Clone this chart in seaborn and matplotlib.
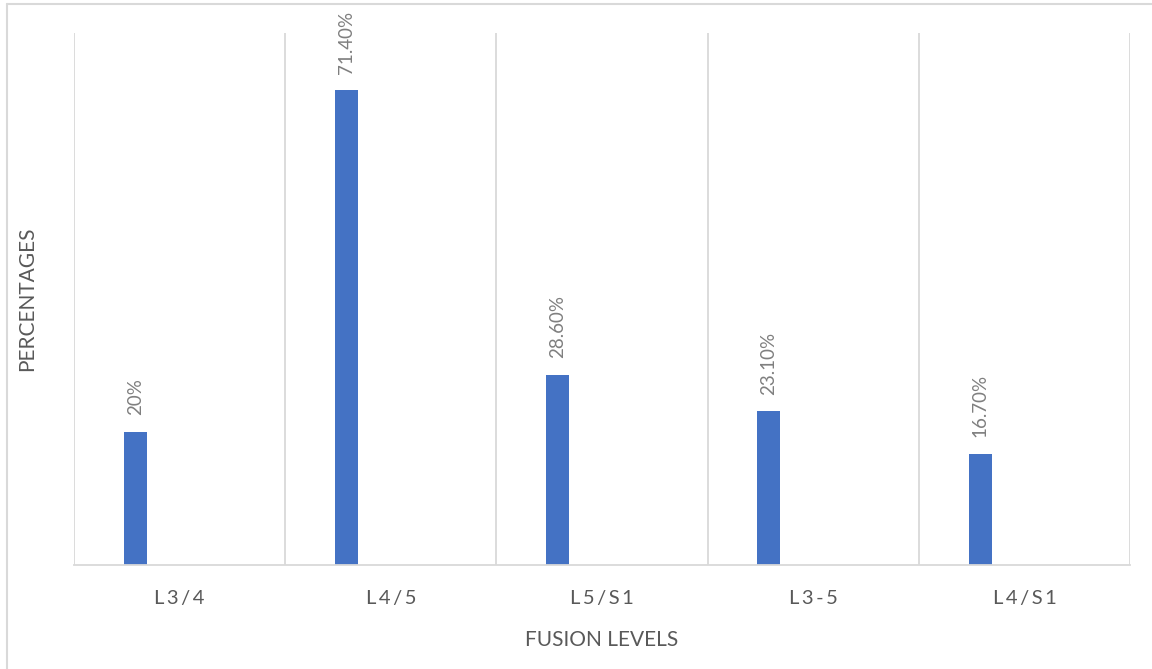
import matplotlib
matplotlib.use("Agg")
import matplotlib.pyplot as plt
from matplotlib.lines import Line2D
import seaborn as sns
import pandas as pd

# Fusion levels and the share of each
levels = ["L3/4", "L4/5", "L5/S1", "L3-5", "L4/S1"]
percentages = [20.0, 71.4, 28.6, 23.1, 16.7]

BAR_COLOR = "#4472C4"
GRID_COLOR = "#D9D9D9"
TEXT_COLOR = "#595959"
LABEL_COLOR = "#7F7F7F"


def fmt_pct(v):
    return f"{v:.0f}%" if float(v).is_integer() else f"{v:.2f}%"


def spaced(s):
    # letter-spaced category names
    return "\u2009".join(s)


sns.set_theme(style="white")
plt.rcParams["font.family"] = ["Lato", "DejaVu Sans"]

df = pd.DataFrame({"level": levels, "pct": percentages})

fig = plt.figure(figsize=(11.52, 6.69), dpi=100)
ax = fig.add_axes([74 / 1152, 1 - 565 / 669, (1130 - 74) / 1152, (565 - 33) / 669])

sns.barplot(data=df, x="level", y="pct", color=BAR_COLOR, width=0.109,
            saturation=1, ax=ax, errorbar=None)

# Bars sit in the left part of each category slot
shift = -0.21
for p in ax.patches:
    p.set_x(p.get_x() + shift)
    p.set_edgecolor("none")

ax.set_xlim(-0.5, len(levels) - 0.5)
ax.set_ylim(0, 80)

# Vertical separators between categories
for b in [i - 0.5 for i in range(len(levels) + 1)]:
    ax.axvline(b, color=GRID_COLOR, lw=1.3, zorder=0)

for s in ["top", "left", "right"]:
    ax.spines[s].set_visible(False)
ax.spines["bottom"].set_color(GRID_COLOR)
ax.spines["bottom"].set_linewidth(1.3)

ax.set_yticks([])
ax.set_xticks(range(len(levels)))
ax.set_xticklabels([spaced(l) for l in levels], color=TEXT_COLOR, fontsize=14.5)
ax.tick_params(axis="x", length=0, pad=18)

# Value labels above each bar
for p, v in zip(ax.patches, percentages):
    ax.annotate(fmt_pct(v), (p.get_x() + p.get_width() / 2, p.get_height()),
                xytext=(0, 12), textcoords="offset points", rotation=90,
                ha="center", va="bottom", color=LABEL_COLOR, fontsize=13.5)

ax.set_xlabel("FUSION LEVELS", color=TEXT_COLOR, fontsize=15)
ax.xaxis.set_label_coords((602 - 74) / (1130 - 74), -(630 - 565) / (565 - 33))
ax.set_ylabel("PERCENTAGES", color=TEXT_COLOR, fontsize=15)
ax.yaxis.set_label_coords(-(74 - 37) / (1130 - 74), (565 - 299) / (565 - 33))

# Chart area frame
fig.add_artist(Line2D([7 / 1152, 7 / 1152], [0, 1 - 4 / 669],
                      transform=fig.transFigure, color=GRID_COLOR, lw=1.5))
fig.add_artist(Line2D([7 / 1152, 1], [1 - 4 / 669, 1 - 4 / 669],
                      transform=fig.transFigure, color=GRID_COLOR, lw=1.5))

fig.savefig("out.png", dpi=100, facecolor="white")
